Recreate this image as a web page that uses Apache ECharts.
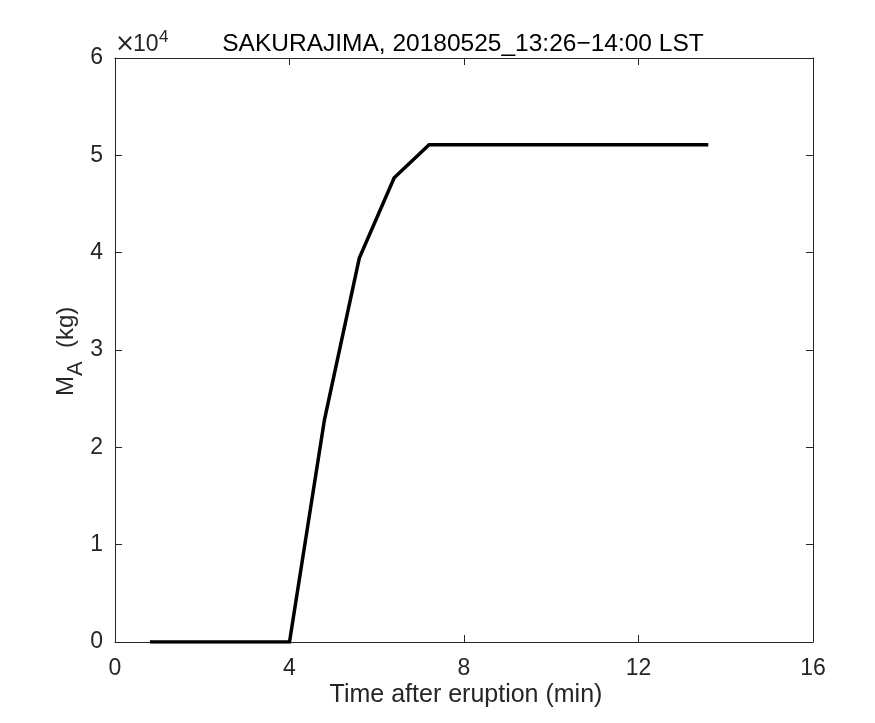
<!DOCTYPE html>
<html>
<head>
<meta charset="utf-8">
<script src="https://cdn.jsdelivr.net/npm/echarts@6/dist/echarts.min.js"></script>
<style>
html,body{margin:0;padding:0;background:#fff;}
#chart{width:875px;height:723px;}
</style>
</head>
<body>
<div id="chart"></div>
<script>
// Data (time in minutes after eruption, mass in kg)
var times = [0.8, 1.6, 2.4, 3.2, 4.0, 4.8, 5.6, 6.4, 7.2, 8.0, 8.8, 9.6, 10.4, 11.2, 12.0, 12.8, 13.6];
var mass  = [0, 0, 0, 0, 0, 22800, 39450, 47700, 51100, 51100, 51100, 51100, 51100, 51100, 51100, 51100, 51100];
var xTicks = [0, 4, 8, 12, 16];
var yTicks = [0, 1, 2, 3, 4, 5, 6];
var titleText = 'SAKURAJIMA, 20180525_13:26\u221214:00 LST';
var xLabelText = 'Time after eruption (min)';

var FONT = 'Liberation Sans';
var AX = '#262626';
var chart = echarts.init(document.getElementById('chart'));

var seriesData = times.map(function (t, i) { return [t, mass[i]]; });

var baseX = {
  type: 'value', min: xTicks[0], max: xTicks[xTicks.length - 1], interval: 4,
  axisLine: { show: true, onZero: false, lineStyle: { color: AX, width: 1 } },
  axisTick: { show: true, inside: true, length: 7, lineStyle: { color: AX, width: 1 } },
  splitLine: { show: false }
};
var baseY = {
  type: 'value', min: yTicks[0] * 10000, max: yTicks[yTicks.length - 1] * 10000, interval: 10000,
  axisLine: { show: true, onZero: false, lineStyle: { color: AX, width: 1 } },
  axisTick: { show: true, inside: true, length: 7, lineStyle: { color: AX, width: 1 } },
  splitLine: { show: false }
};

chart.setOption({
  animation: false,
  backgroundColor: '#fff',
  grid: { left: 115, right: 62, top: 58, bottom: 81, containLabel: false },
  xAxis: [
    Object.assign({}, baseX, {
      position: 'bottom',
      axisLabel: { show: true, margin: 15, color: AX, fontFamily: FONT, fontSize: 23 }
    }),
    Object.assign({}, baseX, { position: 'top', axisLabel: { show: false } })
  ],
  yAxis: [
    Object.assign({}, baseY, {
      position: 'left',
      axisLabel: { show: true, margin: 12, color: AX, fontFamily: FONT, fontSize: 23,
        formatter: function (v) { return String(Math.round(v / 10000)); } }
    }),
    Object.assign({}, baseY, { position: 'right', axisLabel: { show: false } })
  ],
  series: [{
    type: 'line',
    xAxisIndex: 0, yAxisIndex: 0,
    data: seriesData,
    showSymbol: false,
    symbol: 'none',
    lineStyle: { color: '#000', width: 3.5, join: 'miter' },
    itemStyle: { color: '#000' }
  }],
  graphic: [
    { type: 'text', x: 463, y: 44, style: { text: titleText, fill: '#000', font: '24.5px "' + FONT + '"', textAlign: 'center', textVerticalAlign: 'middle' } },
    { type: 'text', x: 466, y: 695, style: { text: xLabelText, fill: AX, font: '25px "' + FONT + '"', textAlign: 'center', textVerticalAlign: 'middle' } },
    { type: 'text', x: 115, y: 45, style: { text: '\u00d7', fill: AX, font: '24px "DejaVu Sans"', textAlign: 'left', textVerticalAlign: 'middle' } },
    { type: 'text', x: 133, y: 45, style: { text: '10', fill: AX, font: '23px "' + FONT + '"', textAlign: 'left', textVerticalAlign: 'middle' } },
    { type: 'text', x: 159, y: 37, style: { text: '4', fill: AX, font: '17px "' + FONT + '"', textAlign: 'left', textVerticalAlign: 'middle' } },
    {
      type: 'group', x: 73, y: 351, rotation: Math.PI / 2,
      children: [
        { type: 'text', x: -45, y: -7, style: { text: 'M', fill: AX, font: '24px "' + FONT + '"', textAlign: 'left', textVerticalAlign: 'middle' } },
        { type: 'text', x: -25, y: 3, style: { text: 'A', fill: AX, font: '22px "' + FONT + '"', textAlign: 'left', textVerticalAlign: 'middle' } },
        { type: 'text', x: 3, y: -7, style: { text: '(kg)', fill: AX, font: '24px "' + FONT + '"', textAlign: 'left', textVerticalAlign: 'middle' } }
      ]
    }
  ]
});
</script>
</body>
</html>
